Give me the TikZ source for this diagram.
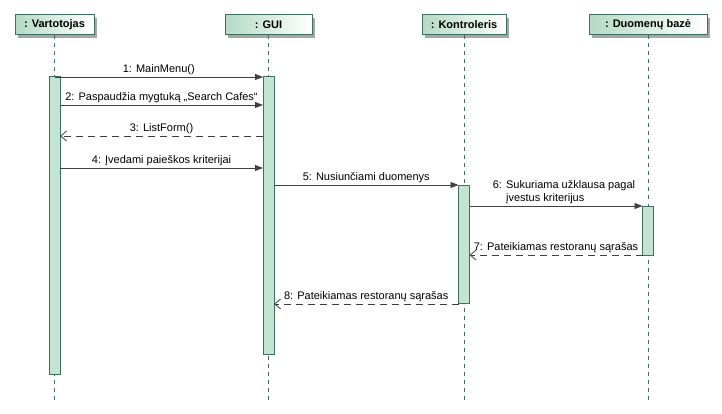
\documentclass[tikz,border=0pt]{standalone}
\usepackage{fontspec}
\setmainfont{Liberation Sans}
\usetikzlibrary{arrows.meta,shadows}

\definecolor{barfill}{HTML}{C4E4D2}
\definecolor{bardraw}{HTML}{3F6F5F}
\definecolor{headgreen}{HTML}{B4DAC6}
\definecolor{msgline}{HTML}{404040}

\begin{document}
\begin{tikzpicture}[
  x=1pt, y=-1pt,
  every node/.style={font=\fontsize{11}{13}\selectfont},
  headnode/.style={rectangle, draw=bardraw, line width=1pt, minimum height=20pt, inner sep=0pt,
    left color=headgreen, right color=white, font=\fontsize{11}{13}\selectfont\bfseries,
    drop shadow={shadow xshift=3pt, shadow yshift=-3pt, fill=black!35, opacity=1}},
  barnode/.style={rectangle, draw=bardraw, fill=barfill, line width=1pt, minimum width=11pt, inner sep=0pt, outer sep=0pt},
  lifeline/.style={draw=bardraw, line width=0.9pt, dash pattern=on 4pt off 4pt},
  msg/.style={msgline, line width=0.8pt, -{Triangle[length=8pt,width=6pt]}},
  reply/.style={msgline, line width=0.8pt, dash pattern=on 7pt off 5pt, -{Straight Barb[length=6pt,width=10pt]}},
  label/.style={above, inner sep=1.5pt, text=black}
]
\useasboundingbox (0,0) rectangle (722,414);

%Heads
\node[headnode, minimum width=79pt]  (vart) at (54.5,25) {: Vartotojas};
\node[headnode, minimum width=87pt]  (gui)  at (268.5,25) {: GUI};
\node[headnode, minimum width=84pt]  (kont) at (464,25) {: Kontroleris};
\node[headnode, minimum width=118pt] (db)   at (648,25) {: Duomenų bazė};

%Lifelines
\coordinate (end) at (0,400);
\draw[lifeline] (vart.south) -- (vart.south |- end);
\draw[lifeline] (gui.south) -- (gui.south |- end);
\draw[lifeline] (kont.south) -- (kont.south |- end);
\draw[lifeline] (db.south) -- (db.south |- end);

%Bars
\node[barnode, minimum height=297pt] (vbar) at (54.5,225.5) {};
\node[barnode, minimum height=277pt] (gbar) at (268.5,215.5) {};
\node[barnode, minimum height=118pt] (kbar) at (464,244) {};
\node[barnode, minimum height=49pt]  (dbar) at (648,230.5) {};

%Messages
\coordinate (m1) at (0,77);
\coordinate (m2) at (0,105);
\coordinate (m3) at (0,136);
\coordinate (m4) at (0,168);
\coordinate (m5) at (0,185);
\coordinate (m6) at (0,206);
\coordinate (m7) at (0,255);
\coordinate (m8) at (0,304);

\draw[msg] (vart.south |- m1) -- node[label] {1: MainMenu()} (gbar.west |- m1);
\draw[msg] (vbar.east |- m2) -- node[label] {2: Paspaudžia mygtuką „Search Cafes“} (gbar.west |- m2);
\draw[reply] (gbar.west |- m3) -- node[label] {3: ListForm()} (vbar.east |- m3);
\draw[msg] (vbar.east |- m4) -- node[label] {4: Įvedami paieškos kriterijai} (gbar.west |- m4);
\draw[msg] (gbar.east |- m5) -- node[label] {5: Nusiunčiami duomenys} (kbar.west |- m5);
\draw[msg] (kbar.east |- m6) -- node[label, align=left, xshift=8pt] {6: Sukuriama užklausa pagal\\\hphantom{6: }įvestus kriterijus} (dbar.west |- m6);
\draw[reply] (dbar.west |- m7) -- node[label] {7: Pateikiamas restoranų sąrašas} (kbar.east |- m7);
\draw[reply] (kbar.west |- m8) -- node[label] {8: Pateikiamas restoranų sąrašas} (gbar.east |- m8);

\end{tikzpicture}
\end{document}
